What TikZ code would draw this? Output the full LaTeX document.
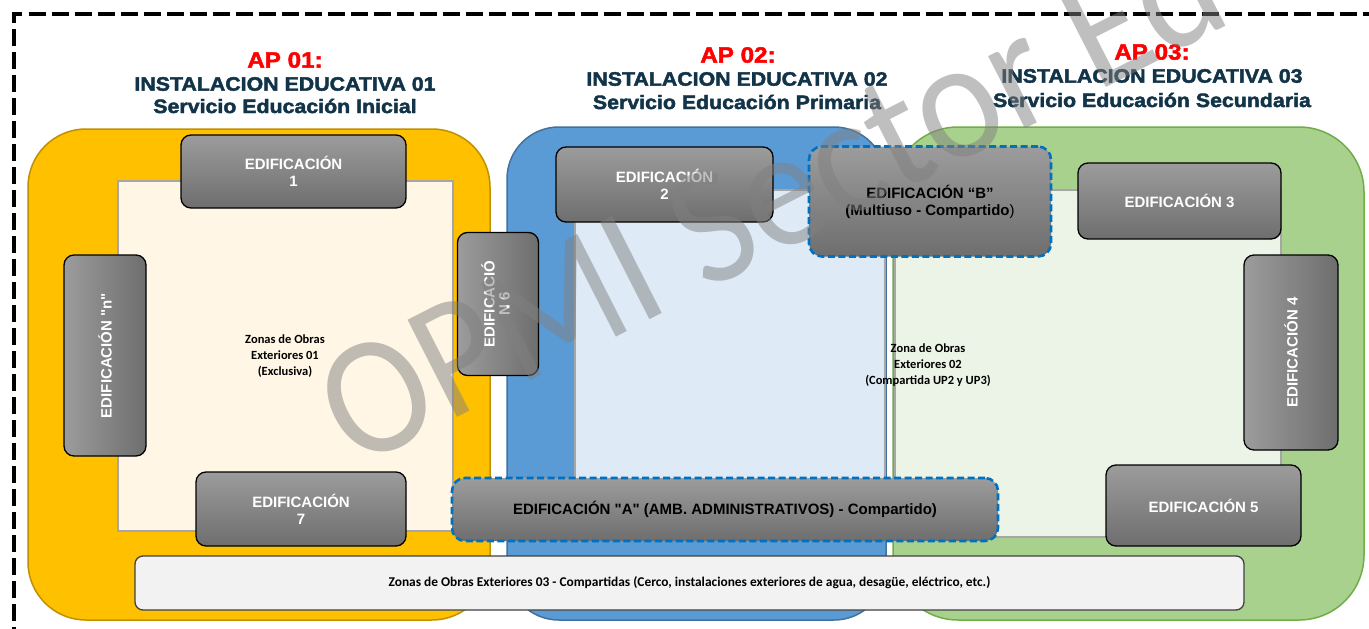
\documentclass[tikz,border=0pt]{standalone}
\usepackage{fontspec}
\setmainfont{Liberation Sans}
\newfontfamily\labf[Ligatures=TeXOff]{Liberation Sans}
\newfontfamily\calf{Carlito}
\newfontfamily\ttlf[FakeStretch=1.1,FakeBold=2.2]{Liberation Sans Bold}
\definecolor{orangeF}{HTML}{FFC000}
\definecolor{orangeD}{HTML}{BF9000}
\definecolor{blueF}{HTML}{5B9BD5}
\definecolor{blueD}{HTML}{41719C}
\definecolor{greenF}{HTML}{A9D18E}
\definecolor{greenD}{HTML}{70AD47}
\definecolor{creamF}{HTML}{FFF6E5}
\definecolor{lblueF}{HTML}{DEEBF7}
\definecolor{lgreenF}{HTML}{EBF4E6}
\definecolor{bTop}{HTML}{9C9C9C}
\definecolor{bBot}{HTML}{6E6E6E}
\definecolor{navy}{HTML}{123449}
\definecolor{dashblue}{HTML}{0070C0}
\definecolor{zoneF}{HTML}{F2F2F2}
\definecolor{innerD}{HTML}{A6A6A6}
\begin{document}
\begin{tikzpicture}[x=1pt,y=-1pt,
  frame/.style={line width=4.5pt, dash pattern=on 17pt off 6pt, dash phase=16.5pt},
  region/.style={line width=1.5pt},
  innerzone/.style={draw=innerD, line width=2pt},
  bldbase/.style={draw=black, line width=1.3pt, rounded corners=10pt, inner sep=0pt, align=center,
    font=\labf\bfseries\fontsize{15}{17}\selectfont},
  bld/.style={bldbase, top color=bTop, bottom color=bBot, text=white},
  bldv/.style={bldbase, left color=bTop, right color=bBot, text=white},
  shared/.style={bldbase, draw=dashblue, line width=2.6pt, dash pattern=on 7pt off 3.5pt,
    rounded corners=13pt, top color=bTop, bottom color=bBot, text=black},
  zonebox/.style={draw=black!75, line width=1.3pt, fill=zoneF, rounded corners=8pt, inner sep=0pt,
    font=\calf\bfseries\fontsize{13.4}{16}\selectfont},
  zonetext/.style={align=center, inner sep=0pt, font=\calf\bfseries\fontsize{12.5}{16}\selectfont},
  aptitle/.style={text=red, inner sep=0pt, font=\ttlf\fontsize{22}{24}\selectfont},
  ietitle/.style={text=navy, inner sep=0pt, font=\ttlf\fontsize{19.4}{22}\selectfont},
  watermark/.style={inner sep=0pt, anchor=base west, rotate=27, xscale=0.92, text=black!50, text opacity=0.5,
    font=\calf\fontsize{170}{175}\selectfont}]
\clip (0,0) rectangle (1369,629);
\fill[white] (0,0) rectangle (1369,629);
% frame
\coordinate (fc) at (14,14);
\coordinate (fb) at (14,650);
\coordinate (fr) at (1400,14);
\draw[frame] (fb) -- (fc) -- (fr);
% regions
\draw[region, fill=orangeF, draw=orangeD, rounded corners=58pt] (28,129) rectangle (490,620);
\draw[region, fill=blueF, draw=blueD, rounded corners=52pt] (507,127) rectangle (886,620);
\draw[region, fill=greenF, draw=greenD, rounded corners=65pt] (893,127) rectangle (1364,620);
% inner zones
\draw[innerzone, fill=creamF] (118,181) rectangle (453,531);
\draw[innerzone, fill=lblueF] (575,190) rectangle (885,540);
\draw[innerzone, fill=lgreenF] (895,190) rectangle (1281,537);
% zone texts
\node[zonetext] (z1) at (285,356) {Zonas de Obras\\Exteriores 01\\(Exclusiva)};
\node[zonetext] (z2) at (928,365) {Zona de Obras\\Exteriores 02\\(Compartida UP2 y UP3)};
% buildings
\node[bld, minimum width=225pt, minimum height=73pt] (e1) at (293.5,171.5) {EDIFICACIÓN\\1};
\node[bldv, minimum width=82pt, minimum height=201pt] (en) at (105,355.5) {\rotatebox{90}{EDIFICACIÓN "n"}};
\node[bldv, minimum width=81pt, minimum height=143pt] (e6) at (498,304) {\rotatebox{90}{\begin{tabular}{@{}c@{}}EDIFICACIÓ\\[-2pt]N 6\end{tabular}}};
\node[bld, minimum width=210pt, minimum height=74pt] (e7) at (301,509) {EDIFICACIÓN\\7};
\node[bld, minimum width=217pt, minimum height=75pt] (e2) at (664.5,184.5) {EDIFICACIÓN\\2};
\node[bld, minimum width=203pt, minimum height=76pt] (e3) at (1179.5,201) {EDIFICACIÓN 3};
\node[bldv, minimum width=94pt, minimum height=195pt] (e4) at (1291,352.5) {\rotatebox{90}{EDIFICACIÓN 4}};
\node[bld, minimum width=195pt, minimum height=81pt] (e5) at (1203.5,505.5) {EDIFICACIÓN 5};
\node[shared, minimum width=242pt, minimum height=110pt] (eb) at (930,201.5) {EDIFICACIÓN “B”\\(Multiuso - Compartido{\mdseries)}};
\node[shared, minimum width=546pt, minimum height=63pt] (ea) at (725,509.5) {EDIFICACIÓN "A" (AMB. ADMINISTRATIVOS) - Compartido)};
\node[zonebox, minimum width=1109pt, minimum height=54pt] (z3) at (689.5,583) {Zonas de Obras Exteriores 03 - Compartidas (Cerco, instalaciones exteriores de agua, desagüe, eléctrico, etc.)};
% titles
\node[aptitle] (t1a) at (285,60) {AP 01:};
\node[ietitle] (t1b) at (285,84) {INSTALACION EDUCATIVA 01};
\node[ietitle] (t1c) at (285,106) {Servicio Educación Inicial};
\node[aptitle] (t2a) at (738,55) {AP 02:};
\node[ietitle] (t2b) at (737,79) {INSTALACION EDUCATIVA 02};
\node[ietitle] (t2c) at (737,102) {Servicio Educación Primaria};
\node[aptitle] (t3a) at (1152,52) {AP 03:};
\node[ietitle] (t3b) at (1152,76) {INSTALACION EDUCATIVA 03};
\node[ietitle] (t3c) at (1152,100) {Servicio Educación Secundaria};
% watermark
\node[watermark] (wm) at (355,470) {OPMI Sector Ed};
\end{tikzpicture}
\end{document}
